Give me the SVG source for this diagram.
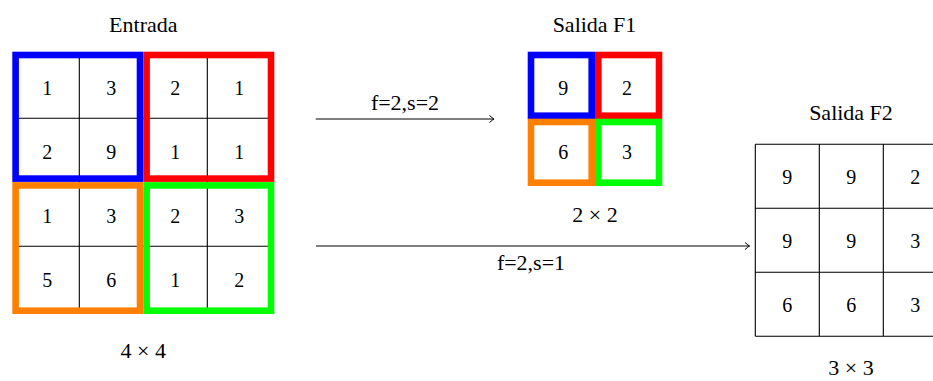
<svg xmlns="http://www.w3.org/2000/svg" width="933" height="381" viewBox="0 0 933 381" font-family="'Liberation Serif', 'DejaVu Serif', serif">
  <style>
    .title { font-family: 'Liberation Serif', 'DejaVu Serif', serif; font-size: 22px; fill: #000; text-anchor: middle; }
    .num { font-family: 'Liberation Serif', 'DejaVu Serif', serif; font-size: 20px; fill: #000; text-anchor: middle; }
    .grid { fill: none; stroke: #000; stroke-width: 1.1; }
    .win { fill: none; stroke-width: 6.6; }
    .blue { stroke: #0000FF; }
    .red { stroke: #FF0000; }
    .orange { stroke: #FF8000; }
    .green { stroke: #00FF00; }
    .arrow { fill: none; stroke: #000; stroke-width: 1; marker-end: url(#tip); }
  </style>
  <defs>
    <marker id="tip" viewBox="-6 -5 8 10" markerWidth="8" markerHeight="10" refX="0" refY="0" orient="auto" markerUnits="userSpaceOnUse">
      <path d="M-4.5,-3.5 Q-1.2,-0.6 0,0 Q-1.2,0.6 -4.5,3.5" fill="none" stroke="#000" stroke-width="1"/>
    </marker>
  </defs>

  <!-- 4x4 input matrix with the four 2x2 pooling windows -->
  <g id="entrada">
    <text class="title" x="143.3" y="32">Entrada</text>
    <path class="grid" d="M79.3,54.3V310.3M207.3,54.3V310.3M15.3,118.3H271.3M15.3,246.3H271.3"/>
    <rect class="win blue" x="15.6" y="55" width="124.4" height="123.6"/>
    <rect class="win red" x="146.6" y="55" width="124.4" height="123.6"/>
    <rect class="win orange" x="15.6" y="185.4" width="124.4" height="125.3"/>
    <rect class="win green" x="146.6" y="185.4" width="124.4" height="125.3"/>
    <g>
      <text class="num" x="47.3" y="95">1</text><text class="num" x="111.3" y="95">3</text><text class="num" x="175.3" y="95">2</text><text class="num" x="239.3" y="95">1</text>
      <text class="num" x="47.3" y="158.7">2</text><text class="num" x="111.3" y="158.7">9</text><text class="num" x="175.3" y="158.7">1</text><text class="num" x="239.3" y="158.7">1</text>
      <text class="num" x="47.3" y="222.7">1</text><text class="num" x="111.3" y="222.7">3</text><text class="num" x="175.3" y="222.7">2</text><text class="num" x="239.3" y="222.7">3</text>
      <text class="num" x="47.3" y="286.7">5</text><text class="num" x="111.3" y="286.7">6</text><text class="num" x="175.3" y="286.7">1</text><text class="num" x="239.3" y="286.7">2</text>
    </g>
    <text class="title" x="143.3" y="358.3">4 × 4</text>
  </g>

  <!-- 2x2 output for stride 2 -->
  <g id="salida-f1">
    <text class="title" x="594.5" y="32">Salida F1</text>
    <rect class="win blue" x="531" y="55" width="60.7" height="60.7"/>
    <rect class="win red" x="598.3" y="55" width="60.7" height="60.7"/>
    <rect class="win orange" x="531" y="122" width="60.7" height="60.7"/>
    <rect class="win green" x="598.3" y="122" width="60.7" height="60.7"/>
    <g>
      <text class="num" x="563.3" y="95">9</text><text class="num" x="627" y="95">2</text>
      <text class="num" x="563.3" y="158.5">6</text><text class="num" x="627" y="158.5">3</text>
    </g>
    <text class="title" x="595" y="221.7">2 × 2</text>
  </g>

  <!-- 3x3 output for stride 1 (runs past the right edge) -->
  <g id="salida-f2">
    <text class="title" x="851" y="120">Salida F2</text>
    <path class="grid" d="M755.3,144.3H947.3M755.3,208.3H947.3M755.3,272.3H947.3M755.3,336.3H947.3M755.3,144.3V336.3M819.3,144.3V336.3M883.3,144.3V336.3M947.3,144.3V336.3"/>
    <g>
      <text class="num" x="787.3" y="184.3">9</text><text class="num" x="851.3" y="184.3">9</text><text class="num" x="915.3" y="184.3">2</text>
      <text class="num" x="787.3" y="248.3">9</text><text class="num" x="851.3" y="248.3">9</text><text class="num" x="915.3" y="248.3">3</text>
      <text class="num" x="787.3" y="312.3">6</text><text class="num" x="851.3" y="312.3">6</text><text class="num" x="915.3" y="312.3">3</text>
    </g>
    <text class="title" x="851" y="375">3 × 3</text>
  </g>

  <!-- connectors -->
  <g id="connectors">
    <path class="arrow" d="M315.7,119H494"/>
    <text class="title" x="405" y="110">f=2,s=2</text>
    <path class="arrow" d="M316,246H749.5"/>
    <text class="title" x="531" y="270">f=2,s=1</text>
  </g>
</svg>
